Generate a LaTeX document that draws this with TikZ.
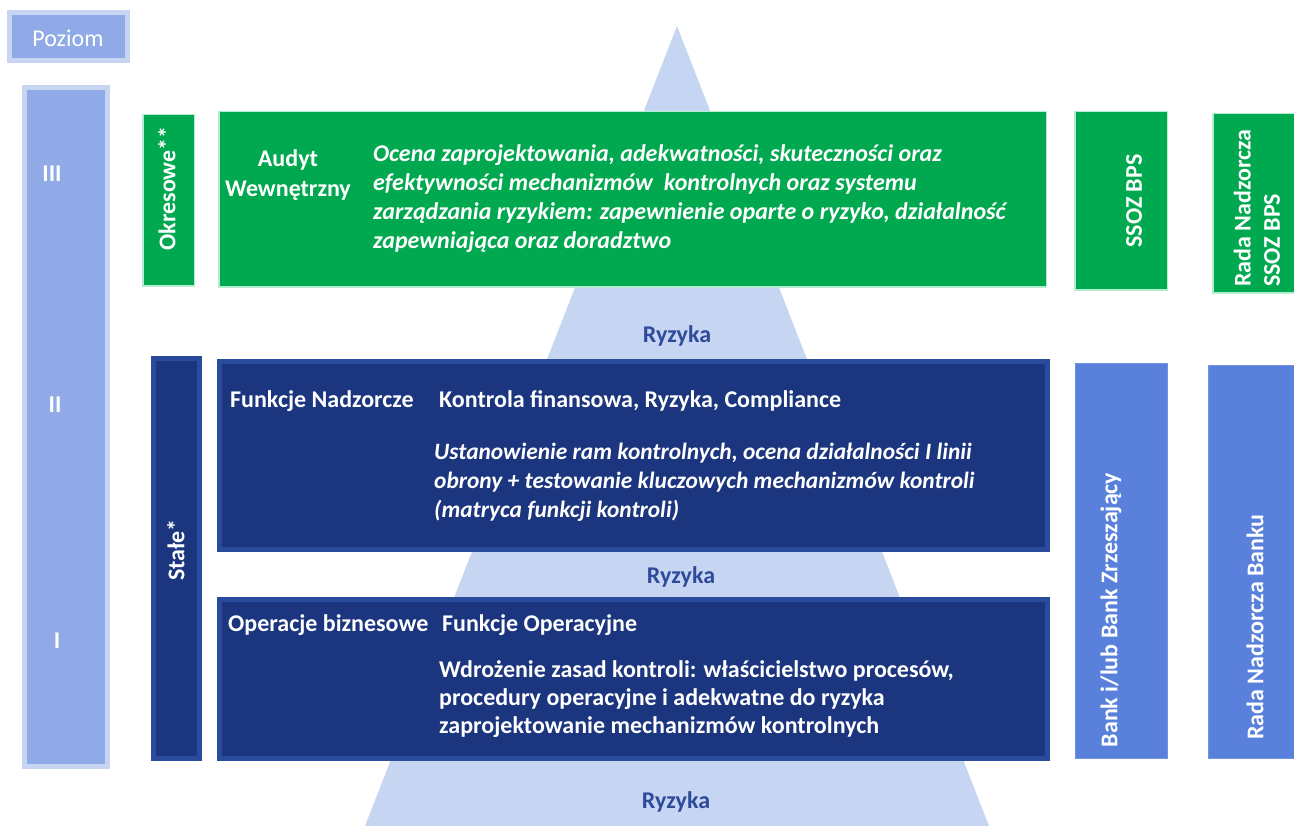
\documentclass[tikz,border=0pt]{standalone}
\usepackage{fontspec}
\setmainfont{Carlito}
\definecolor{pyr}{HTML}{C6D5F2}
\definecolor{lvl}{HTML}{8FAAE6}
\definecolor{lvlb}{HTML}{C7D4F2}
\definecolor{grn}{HTML}{00A84F}
\definecolor{grnb}{HTML}{B4EDCF}
\definecolor{navy}{HTML}{1B367F}
\definecolor{navyb}{HTML}{2A4A9C}
\definecolor{bnk}{HTML}{5981DC}
\definecolor{bnkb}{HTML}{7393E2}
\definecolor{ryz}{HTML}{2E4A9A}
\newcommand\myfs{\fontsize{24}{29.3}\selectfont}
\newcommand\myfss{\fontsize{23.4}{29.3}\selectfont}
\tikzset{
  wt/.style={text=white, inner sep=0pt, font=\myfs\bfseries},
  wti/.style={text=white, inner sep=0pt, font=\myfss\bfseries\itshape},
  wtbi/.style={text=white, inner sep=0pt, font=\myfs\bfseries\itshape},
  wtr/.style={text=white, inner sep=0pt, font=\myfs},
  ryzt/.style={text=ryz, inner sep=0pt, font=\myfs\bfseries},
  lvlbox/.style={draw=lvlb, line width=5pt, fill=lvl},
  grnbox/.style={draw=grnb, line width=1.5pt, fill=grn},
  navybox/.style={draw=navyb, line width=5pt, fill=navy},
  bnkbox/.style={draw=bnkb, line width=1pt, fill=bnk},
}
\begin{document}
\begin{tikzpicture}[x=1pt,y=-1pt]
\useasboundingbox (0,0) rectangle (1294,826);
% pyramid
\fill[pyr] (677,26) -- (989,826) -- (365,826) -- cycle;
% level column and header
\draw[lvlbox] (9.5,12.5) rectangle (127.5,60.5);
\node[wtr, anchor=base] (poziom) at (68,47) {Poziom};
\draw[lvlbox] (24.5,87.5) rectangle (107.5,766.5);
\node[wt, anchor=base] (l3) at (52,182) {III};
\node[wt, anchor=base] (l2) at (55,413) {II};
\node[wt, anchor=base] (l1) at (57,648) {I};
% green level
\draw[grnbox] (142.75,114.75) rectangle (194.25,286.25);
\node[wt, rotate=90] (okr) at (167,188.5) {Okresowe**};
\draw[grnbox] (218.75,111.75) rectangle (1046.25,287.25);
\node[wt, anchor=base] (aud1) at (288,167) {Audyt};
\node[wt, anchor=base] (aud2) at (288,196.5) {Wewnętrzny};
\node[wtbi, anchor=base west] (g1) at (373,161.5) {Ocena zaprojektowania, adekwatności, skuteczności oraz};
\node[wtbi, anchor=base west] (g2) at (373,190.5) {efektywności mechanizmów\ \ kontrolnych oraz systemu};
\node[wtbi, anchor=base west] (g3) at (373,219.5) {zarządzania ryzykiem: zapewnienie oparte o ryzyko, działalność};
\node[wtbi, anchor=base west] (g4) at (373,248.5) {zapewniająca oraz doradztwo};
\draw[grnbox] (1074.75,111.75) rectangle (1167.25,290.25);
\node[wt, rotate=90] (ssoz) at (1134,201) {SSOZ BPS};
\draw[grnbox] (1212.75,113.75) rectangle (1294.5,293.25);
\node[wt, rotate=90, anchor=west, align=left] (rada1) at (1257,287) {Rada Nadzorcza\\SSOZ BPS};
% Ryzyka labels
\node[ryzt, anchor=base] (r1) at (677,343) {Ryzyka};
\node[ryzt, anchor=base] (r2) at (681,583) {Ryzyka};
\node[ryzt, anchor=base] (r3) at (676,808) {Ryzyka};
% navy level
\draw[navybox] (153.5,358.5) rectangle (199.5,758.5);
\node[wt, rotate=90] (stale) at (176,550) {Stałe*};
\draw[navybox] (219.5,361.5) rectangle (1047.5,549.5);
\node[wt, anchor=base west] (fn) at (230,408) {Funkcje Nadzorcze};
\node[wt, anchor=base west] (kf) at (439,408) {Kontrola finansowa, Ryzyka, Compliance};
\node[wti, anchor=base west] (n1) at (434,459) {Ustanowienie ram kontrolnych, ocena działalności I linii};
\node[wti, anchor=base west] (n2) at (434,488) {obrony + testowanie kluczowych mechanizmów kontroli};
\node[wti, anchor=base west] (n3) at (434,517) {(matryca funkcji kontroli)};
\draw[navybox] (219.5,599.5) rectangle (1047.5,758.5);
\node[wt, anchor=base west] (ob) at (228,631) {Operacje biznesowe};
\node[wt, anchor=base west] (fo) at (442,631) {Funkcje Operacyjne};
\node[wt, anchor=base west] (o1) at (439,677) {Wdrożenie zasad kontroli: właścicielstwo procesów,};
\node[wt, anchor=base west] (o2) at (439,705) {procedury operacyjne i adekwatne do ryzyka};
\node[wt, anchor=base west] (o3) at (439,733) {zaprojektowanie mechanizmów kontrolnych};
% bank columns
\draw[bnkbox] (1075.5,363.5) rectangle (1167.5,758.5);
\node[wt, rotate=90] (bank) at (1111,610) {Bank i/lub Bank Zrzeszający};
\draw[bnkbox] (1208.5,365.5) rectangle (1294.5,758.5);
\node[wt, rotate=90] (radab) at (1255,627) {Rada Nadzorcza Banku};
\end{tikzpicture}
\end{document}
